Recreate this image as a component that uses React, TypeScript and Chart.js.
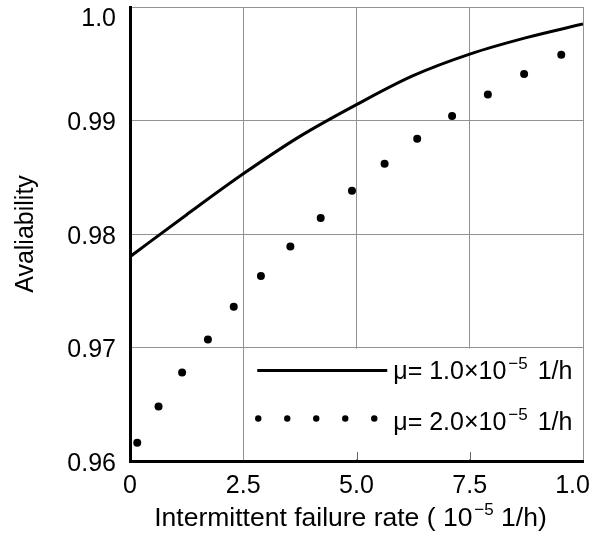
import React, { useEffect, useRef } from "react";
import { Chart, registerables } from "chart.js";

Chart.register(...registerables);

// ---- data ----
const solidX = [0, 1.25, 2.5, 3.75, 5, 6.25, 7.5, 8.75, 10];
const solidY = [0.978, 0.9817, 0.9853, 0.9886, 0.9914, 0.99395, 0.99585, 0.9973, 0.9985];

const dotX = [0.16, 0.63, 1.15, 1.72, 2.29, 2.89, 3.54, 4.21, 4.9, 5.62, 6.34, 7.11, 7.9, 8.7, 9.52];
const dotY = [0.9616, 0.9648, 0.9678, 0.9707, 0.9736, 0.9763, 0.9789, 0.9814, 0.9838, 0.9862, 0.9884, 0.9904, 0.9923, 0.9941, 0.9958];

const xTickValues = [0, 2.5, 5, 7.5, 10];
const xTickLabels = ["0", "2.5", "5.0", "7.5", "1.0"];
const yTickValues = [0.96, 0.97, 0.98, 0.99, 1.0];
const yTickLabels = ["0.96", "0.97", "0.98", "0.99", "1.0"];

const series1Label = ["μ= 1.0×10", "−5", " 1/h"];
const series2Label = ["μ= 2.0×10", "−5", " 1/h"];

const xTitleParts = ["Intermittent failure rate ( 10", "−5", " 1/h)"];
const yTitle = "Avaliability";

const FONT = "'Liberation Sans', Arial, sans-serif";

const drawSup = (
  ctx: CanvasRenderingContext2D,
  parts: string[],
  x: number,
  base: number,
  size: number,
  supSize: number,
  raise: number,
  align: "left" | "center",
  gapAfter: number
) => {
  ctx.textBaseline = "alphabetic";
  ctx.textAlign = "left";
  ctx.font = `${size}px ${FONT}`;
  const w0 = ctx.measureText(parts[0]).width;
  const w2 = ctx.measureText(parts[2]).width;
  ctx.font = `${supSize}px ${FONT}`;
  const w1 = ctx.measureText(parts[1]).width;
  const total = w0 + 2 + w1 + gapAfter + w2;
  let cx = align === "center" ? x - total / 2 : x;
  ctx.font = `${size}px ${FONT}`;
  ctx.fillText(parts[0], cx, base);
  cx += w0 + 2;
  ctx.font = `${supSize}px ${FONT}`;
  ctx.fillText(parts[1], cx, base - raise);
  cx += w1 + gapAfter;
  ctx.font = `${size}px ${FONT}`;
  ctx.fillText(parts[2], cx, base);
};

const legendPlugin = {
  id: "customLegend",
  afterDatasetsDraw(chart: any) {
    const { ctx, chartArea } = chart;
    const xs = chart.scales.x;
    const ys = chart.scales.y;
    const left = xs.getPixelForValue(2.5);
    const top = ys.getPixelForValue(0.97);
    const right = chartArea.right;
    const bottom = chartArea.bottom;
    ctx.save();
    ctx.fillStyle = "#ffffff";
    ctx.fillRect(left + 1, top + 1, right - left - 2, bottom - top - 3);

    // small inner tick marks
    ctx.strokeStyle = "#666666";
    ctx.lineWidth = 1;
    [5, 7.5].forEach((v) => {
      const px = Math.round(xs.getPixelForValue(v)) + 0.5;
      ctx.beginPath();
      ctx.moveTo(px, bottom - 1);
      ctx.lineTo(px, bottom - 9);
      ctx.stroke();
    });

    // sample line
    ctx.strokeStyle = "#000000";
    ctx.lineWidth = 3;
    ctx.beginPath();
    ctx.moveTo(left + 14, top + 23);
    ctx.lineTo(left + 144, top + 23);
    ctx.stroke();

    // sample dots
    ctx.fillStyle = "#000000";
    for (let i = 0; i < 5; i++) {
      ctx.beginPath();
      ctx.arc(left + 15 + i * 29, top + 71, 3.2, 0, Math.PI * 2);
      ctx.fill();
    }

    drawSup(ctx, series1Label, left + 150, top + 31, 25, 17, 10, "left", 3);
    drawSup(ctx, series2Label, left + 150, top + 82, 25, 17, 10, "left", 3);
    ctx.restore();
  },
  afterDraw(chart: any) {
    const { ctx, chartArea } = chart;
    ctx.save();
    ctx.fillStyle = "#000000";
    const cx = (chartArea.left + chartArea.right) / 2 - 6;
    drawSup(ctx, xTitleParts, cx, chartArea.bottom + 65, 26.5, 17, 11, "center", 0);
    ctx.restore();
  },
};

export default function App() {
  const ref = useRef<HTMLCanvasElement | null>(null);
  useEffect(() => {
    if (!ref.current) return;
    const chart = new Chart(ref.current, {
      type: "scatter",
      data: {
        datasets: [
          {
            label: "μ= 1.0×10⁻⁵ 1/h",
            data: solidX.map((x, i) => ({ x, y: solidY[i] })),
            showLine: true,
            borderColor: "#000000",
            borderWidth: 3,
            pointRadius: 0,
            cubicInterpolationMode: "monotone",
            fill: false,
          },
          {
            label: "μ= 2.0×10⁻⁵ 1/h",
            data: dotX.map((x, i) => ({ x, y: dotY[i] })),
            showLine: false,
            backgroundColor: "#000000",
            borderColor: "#000000",
            pointRadius: 4,
            borderWidth: 0,
          },
        ],
      },
      options: {
        animation: false,
        responsive: false,
        layout: { padding: { top: 7, right: 17, left: 0, bottom: 0 } },
        plugins: { legend: { display: false }, tooltip: { enabled: false } },
        scales: {
          x: {
            type: "linear",
            min: 0,
            max: 10,
            afterBuildTicks: (s: any) => {
              s.ticks = xTickValues.map((v) => ({ value: v }));
            },
            afterFit: (s: any) => {
              s.height = 76;
              s.paddingLeft = 0;
              s.paddingRight = 0;
            },
            grid: { color: "#929292", lineWidth: 1, drawTicks: false },
            border: { display: true, color: "#000000", width: 3 },
            ticks: {
              autoSkip: false,
              maxRotation: 0,
              padding: 10,
              color: "#000000",
              font: { family: FONT, size: 25 },
              callback: (v: any, i: number) =>
                i === xTickLabels.length - 1 ? xTickLabels[i] + "   " : xTickLabels[i],
            },
            title: { display: false },
          },
          y: {
            type: "linear",
            min: 0.96,
            max: 1.0,
            afterBuildTicks: (s: any) => {
              s.ticks = yTickValues.map((v) => ({ value: v }));
            },
            afterFit: (s: any) => {
              s.width = 130;
              s.paddingTop = 0;
              s.paddingBottom = 0;
            },
            grid: { color: "#929292", lineWidth: 1, drawTicks: false },
            border: { display: true, color: "#000000", width: 3 },
            ticks: {
              autoSkip: false,
              padding: 14,
              labelOffset: 3,
              color: "#000000",
              font: { family: FONT, size: 25, lineHeight: 0.7 },
              callback: (v: any, i: number) =>
                i === yTickLabels.length - 1 ? ["", yTickLabels[i]] : yTickLabels[i],
            },
            title: {
              display: true,
              text: yTitle,
              color: "#000000",
              font: { family: FONT, size: 25 },
              padding: { top: 11, bottom: 0 },
            },
          },
        },
      },
      plugins: [legendPlugin],
    } as any);
    return () => chart.destroy();
  }, []);
  return (
    <canvas
      ref={ref}
      width={600}
      height={537}
      style={{ position: "absolute", left: 0, top: 0, width: 600, height: 537, display: "block" }}
    />
  );
}
